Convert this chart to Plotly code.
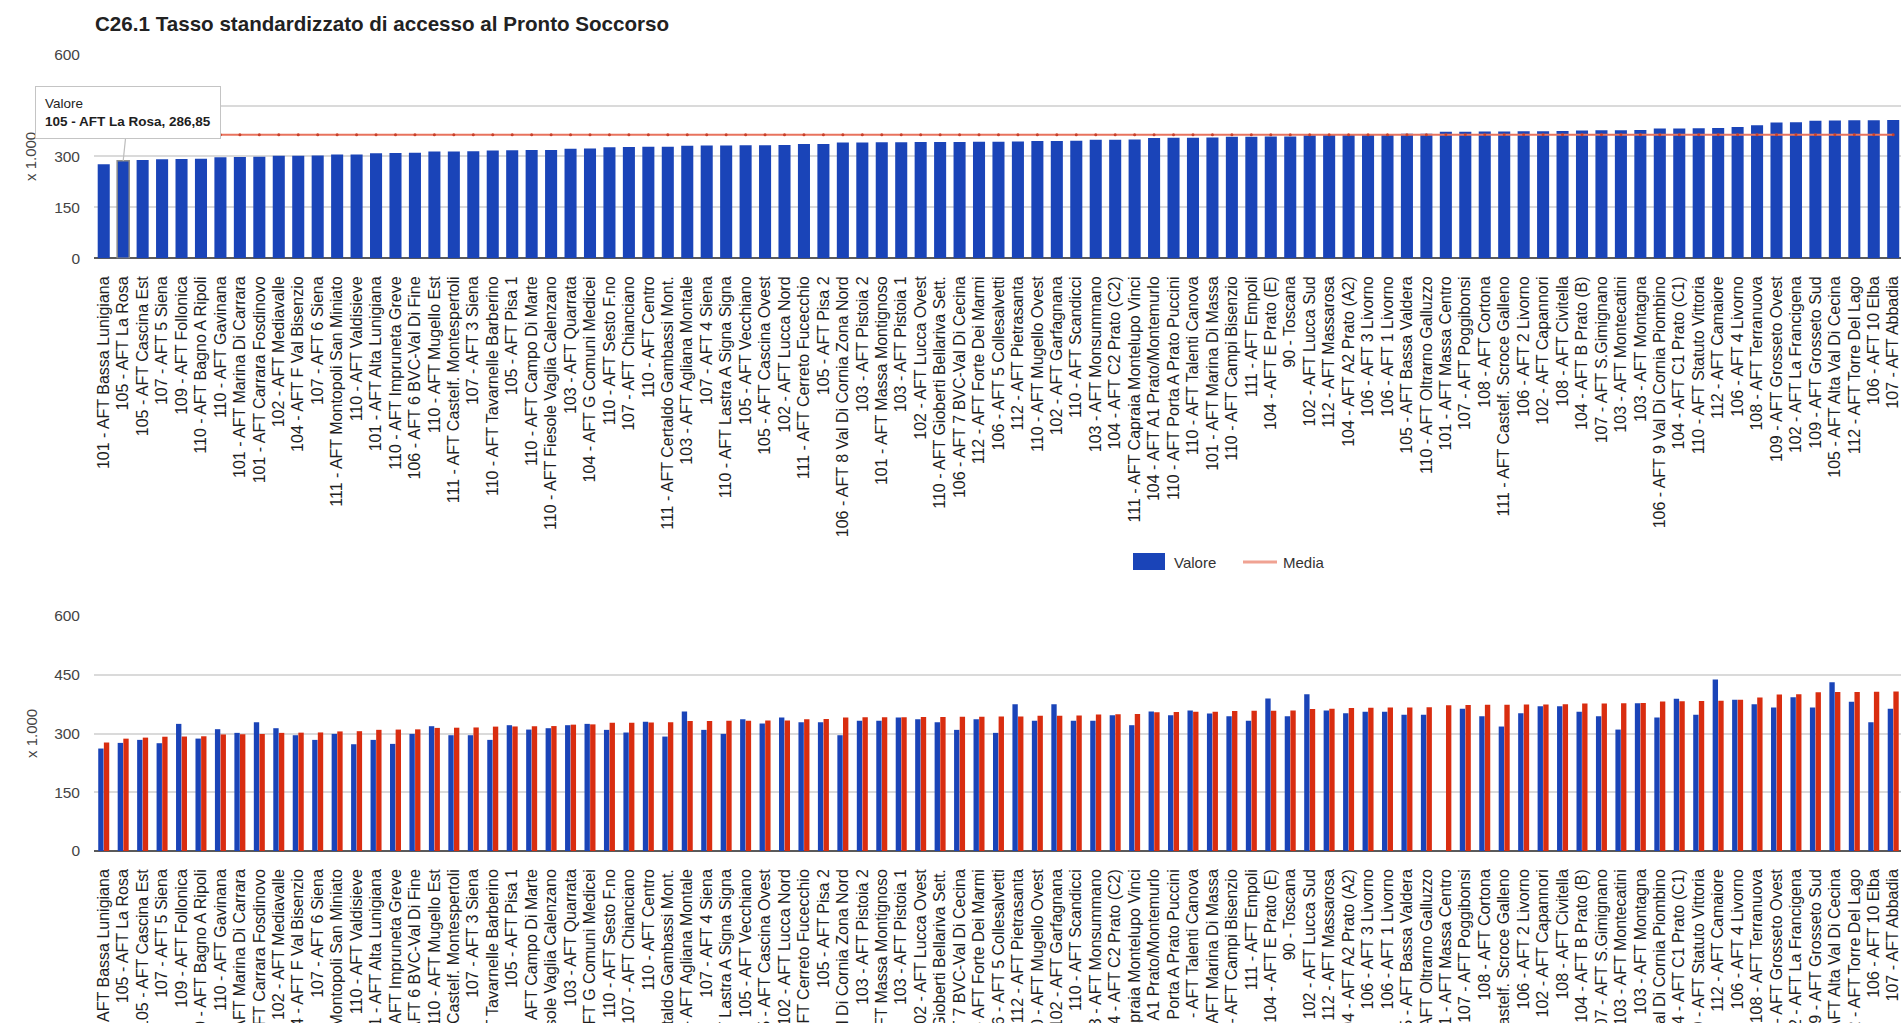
import plotly.graph_objects as go

# ---------------- data ----------------
labels = [
    "101 - AFT Bassa Lunigiana", "105 - AFT La Rosa", "105 - AFT Cascina Est", "107 - AFT 5 Siena",
    "109 - AFT Follonica", "110 - AFT Bagno A Ripoli", "110 - AFT Gavinana", "101 - AFT Marina Di Carrara",
    "101 - AFT Carrara Fosdinovo", "102 - AFT Mediavalle", "104 - AFT F Val Bisenzio", "107 - AFT 6 Siena",
    "111 - AFT Montopoli San Miniato", "110 - AFT Valdisieve", "101 - AFT Alta Lunigiana", "110 - AFT Impruneta Greve",
    "106 - AFT 6 BVC-Val Di Fine", "110 - AFT Mugello Est", "111 - AFT Castelf. Montespertoli", "107 - AFT 3 Siena",
    "110 - AFT Tavarnelle Barberino", "105 - AFT Pisa 1", "110 - AFT Campo Di Marte", "110 - AFT Fiesole Vaglia Calenzano",
    "103 - AFT Quarrata", "104 - AFT G Comuni Medicei", "110 - AFT Sesto F.no", "107 - AFT Chianciano",
    "110 - AFT Centro", "111 - AFT Certaldo Gambassi Mont.", "103 - AFT Agliana Montale", "107 - AFT 4 Siena",
    "110 - AFT Lastra A Signa Signa", "105 - AFT Vecchiano", "105 - AFT Cascina Ovest", "102 - AFT Lucca Nord",
    "111 - AFT Cerreto Fucecchio", "105 - AFT Pisa 2", "106 - AFT 8 Val Di Cornia Zona Nord", "103 - AFT Pistoia 2",
    "101 - AFT Massa Montignoso", "103 - AFT Pistoia 1", "102 - AFT Lucca Ovest", "110 - AFT Gioberti Bellariva Sett.",
    "106 - AFT 7 BVC-Val Di Cecina", "112 - AFT Forte Dei Marmi", "106 - AFT 5 Collesalvetti", "112 - AFT Pietrasanta",
    "110 - AFT Mugello Ovest", "102 - AFT Garfagnana", "110 - AFT Scandicci", "103 - AFT Monsummano",
    "104 - AFT C2 Prato (C2)", "111 - AFT Capraia Montelupo Vinci", "104 - AFT A1 Prato/Montemurlo", "110 - AFT Porta A Prato Puccini",
    "110 - AFT Talenti Canova", "101 - AFT Marina Di Massa", "110 - AFT Campi Bisenzio", "111 - AFT Empoli",
    "104 - AFT E Prato (E)", "90 - Toscana", "102 - AFT Lucca Sud", "112 - AFT Massarosa",
    "104 - AFT A2 Prato (A2)", "106 - AFT 3 Livorno", "106 - AFT 1 Livorno", "105 - AFT Bassa Valdera",
    "110 - AFT Oltrarno Galluzzo", "101 - AFT Massa Centro", "107 - AFT Poggibonsi", "108 - AFT Cortona",
    "111 - AFT Castelf. Scroce Galleno", "106 - AFT 2 Livorno", "102 - AFT Capannori", "108 - AFT Civitella",
    "104 - AFT B Prato (B)", "107 - AFT S.Gimignano", "103 - AFT Montecatini", "103 - AFT Montagna",
    "106 - AFT 9 Val Di Cornia Piombino", "104 - AFT C1 Prato (C1)", "110 - AFT Statuto Vittoria", "112 - AFT Camaiore",
    "106 - AFT 4 Livorno", "108 - AFT Terranuova", "109 - AFT Grosseto Ovest", "102 - AFT La Francigena",
    "109 - AFT Grosseto Sud", "105 - AFT Alta Val Di Cecina", "112 - AFT Torre Del Lago", "106 - AFT 10 Elba",
    "107 - AFT Abbadia",
]

valore = [
    277.0, 286.85, 289.5, 291.8, 292.3, 292.9, 297.6, 298.1, 298.7, 301.6,
    302.2, 302.7, 305.3, 305.9, 309.4, 310.0, 310.6, 314.3, 314.8, 315.4,
    317.6, 318.0, 318.5, 319.0, 322.6, 323.3, 327.2, 327.7, 328.2, 328.8,
    331.6, 332.0, 332.3, 332.7, 333.1, 333.5, 336.2, 336.9, 340.9, 341.2,
    341.5, 341.8, 342.1, 342.4, 342.7, 343.0, 343.3, 343.6, 345.2, 345.6,
    346.0, 348.8, 349.3, 349.8, 354.3, 354.8, 355.3, 355.8, 357.6, 358.0,
    358.4, 358.8, 362.6, 363.2, 365.3, 365.7, 366.1, 366.5, 366.9, 372.3,
    372.7, 373.1, 373.5, 373.9, 374.3, 374.7, 376.4, 376.8, 377.2, 377.6,
    382.0, 382.5, 383.0, 383.5, 386.4, 392.1, 399.6, 400.3, 405.4, 405.8,
    406.2, 406.6, 407.0,
]

valore_precedente = [
    261.6, 276.0, 283.7, 275.2, 324.6, 287.0, 311.0, 301.6, 328.9, 313.5,
    295.6, 283.7, 299.0, 272.6, 283.7, 273.5, 299.0, 318.6, 295.6, 295.6,
    283.7, 321.2, 310.0, 313.5, 321.2, 324.6, 309.3, 302.5, 329.7, 292.2,
    356.0, 309.3, 299.0, 336.5, 325.5, 340.8, 328.9, 328.9, 295.6, 332.3,
    332.3, 340.8, 336.5, 328.9, 309.3, 336.5, 301.6, 374.9, 332.3, 374.9,
    332.3, 332.3, 346.8, 321.2, 356.1, 346.8, 358.7, 351.0, 344.2, 332.3,
    389.4, 344.2, 400.4, 358.7, 351.9, 355.3, 355.3, 347.6, 347.6, None,
    363.0, 344.2, 317.8, 351.9, 369.8, 369.8, 355.3, 344.2, 310.0, 377.4,
    340.8, 388.5, 347.6, 437.9, 386.0, 374.9, 366.4, 392.8, 366.4, 431.1,
    380.8, 328.9, 363.0,
]

media = 364.0
media_series = [media for _ in labels]

title_text = "C26.1 Tasso standardizzato di accesso al Pronto Soccorso"
y_tick_vals = [0, 150, 300, 450, 600]
y_title = "x 1.000"
tooltip_name = "Valore"
tooltip_item = "105 - AFT La Rosa, 286,85"
legend_names = ["Valore", "Media"]

# ---------------- styling / layout helpers ----------------
W, H = 1901, 1023
L = 94
PW = W - L
FONT = "Liberation Sans, Arial, sans-serif"
BLUE = "#1a44b8"
RED = "#d92d10"
MEDIA_COL = "#e8735e"
GRID = "#dadada"


def pxx(x):
    return (x - L) / PW


def pyy(y):
    return (H - y) / H


line_w = [0] * len(labels)
line_w[1] = 1.5

fig = go.Figure()

fig.add_trace(go.Bar(
    x=labels, y=valore, name=legend_names[0], width=0.62,
    marker=dict(color=BLUE, line=dict(color="#8a8a8a", width=line_w)),
    xaxis="x", yaxis="y", showlegend=False,
))
fig.add_trace(go.Scatter(
    x=labels, y=media_series, name=legend_names[1], mode="lines+markers",
    line=dict(color=MEDIA_COL, width=2), marker=dict(color="#c8402a", size=3),
    xaxis="x", yaxis="y", showlegend=False,
))

fig.add_trace(go.Bar(
    x=labels, y=valore_precedente, name="Valore precedente",
    marker=dict(color=BLUE, line=dict(width=0)),
    xaxis="x2", yaxis="y2", showlegend=False,
))
fig.add_trace(go.Bar(
    x=labels, y=valore, name="Valore",
    marker=dict(color=RED, line=dict(width=0)),
    xaxis="x2", yaxis="y2", showlegend=False,
))

xcommon = dict(
    type="category", categoryorder="array", categoryarray=labels,
    range=[-0.5, len(labels) - 0.6], tickangle=-90, tickmode="linear", tick0=0, dtick=1,
    tickfont=dict(family=FONT, size=16, color="#1e1e1e"),
    showgrid=False, showline=False, zeroline=False, automargin=False,
    ticks="", ticklabelstandoff=14, fixedrange=True,
)
ycommon = dict(
    range=[0, 600], tickmode="array", tickvals=y_tick_vals,
    tickfont=dict(family=FONT, size=15.5, color="#444444"),
    showgrid=True, gridcolor=GRID, gridwidth=2,
    zeroline=True, zerolinecolor="#5a5a5a", zerolinewidth=2,
    showline=False, automargin=False, ticks="", ticklabelstandoff=13,
    fixedrange=True,
)

fig.update_layout(
    width=W, height=H,
    margin=dict(l=L, r=0, t=0, b=0),
    paper_bgcolor="white", plot_bgcolor="white",
    barmode="group", bargap=0.42, bargroupgap=0.05,
    font=dict(family=FONT),
    showlegend=False,
    xaxis=dict(domain=[0, 1], anchor="y", **xcommon),
    yaxis=dict(domain=[pyy(258.2), pyy(54.6)], anchor="x", **ycommon),
    xaxis2=dict(domain=[0, 1], anchor="y2", **xcommon),
    yaxis2=dict(domain=[pyy(851), pyy(616)], anchor="x2", **ycommon),
)

annotations = [
    dict(text=f"<b>{title_text}</b>", xref="paper", yref="paper",
         x=pxx(93), y=pyy(24), xanchor="left", yanchor="middle", showarrow=False,
         font=dict(family=FONT, size=20.6, color="#222222")),
    dict(text=y_title, xref="paper", yref="paper", x=pxx(31), y=pyy(157),
         textangle=-90, showarrow=False, xanchor="center", yanchor="middle",
         font=dict(family=FONT, size=15, color="#444444")),
    dict(text=y_title, xref="paper", yref="paper", x=pxx(31), y=pyy(734),
         textangle=-90, showarrow=False, xanchor="center", yanchor="middle",
         font=dict(family=FONT, size=15, color="#444444")),
    # legend texts
    dict(text=legend_names[0], xref="paper", yref="paper", x=pxx(1172), y=pyy(562),
         xanchor="left", yanchor="middle", showarrow=False,
         font=dict(family=FONT, size=15, color="#333333")),
    dict(text=legend_names[1], xref="paper", yref="paper", x=pxx(1281), y=pyy(562),
         xanchor="left", yanchor="middle", showarrow=False,
         font=dict(family=FONT, size=15, color="#333333")),
    # tooltip
    dict(text=f"{tooltip_name}<br><b>{tooltip_item}</b>", xref="x", yref="y",
         x=labels[1], y=valore[1], ax=5, ay=-48, showarrow=True, arrowhead=0,
         arrowwidth=1.2, arrowcolor="#bdbdbd", align="left",
         bgcolor="white", bordercolor="#c4c4c4", borderwidth=1, borderpad=9,
         font=dict(family=FONT, size=13.5, color="#1e1e1e")),
]
fig.update_layout(annotations=annotations)

shapes = [
    dict(type="rect", xref="paper", yref="paper",
         x0=pxx(1133), x1=pxx(1165), y0=pyy(570), y1=pyy(553),
         fillcolor=BLUE, line=dict(width=0)),
    dict(type="line", xref="paper", yref="paper",
         x0=pxx(1243), x1=pxx(1277), y0=pyy(562), y1=pyy(562),
         line=dict(color="#f0a292", width=3)),
]
fig.update_layout(shapes=shapes)

fig.write_html("out.html", config={"displayModeBar": False})
